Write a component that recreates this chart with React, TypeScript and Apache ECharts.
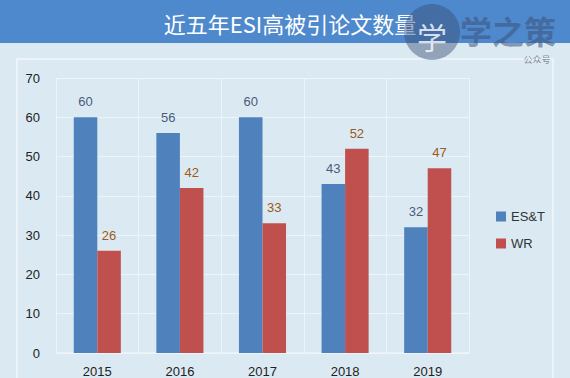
import React, { useEffect, useRef } from "react";
import * as echarts from "echarts";

const titleText = "近五年ESI高被引论文数量";
const years = ["2015", "2016", "2017", "2018", "2019"];
const estValues = [60, 56, 60, 43, 32];
const wrValues = [26, 42, 33, 52, 47];
const seriesNames = ["ES&T", "WR"];

export default function App() {
  const ref = useRef<HTMLDivElement>(null);
  useEffect(() => {
    document.body.style.margin = "0";
    const chart = echarts.init(ref.current!, null, { renderer: "svg" });
    const font = "'Liberation Sans', 'DejaVu Sans', sans-serif";
    chart.setOption({
      animation: false,
      backgroundColor: "#dbeaf2",
      textStyle: { fontFamily: font },
      graphic: [
        { type: "rect", left: 0, top: 0, shape: { x: 0, y: 0, width: 570, height: 43 }, style: { fill: "#4f89cd" }, z: 0 },
        { type: "rect", shape: { x: 17, y: 59, width: 536, height: 330 }, style: { fill: "none", stroke: "#f2f8fb", lineWidth: 1.5 }, z: 0 },
        {
          type: "text", x: 290, y: 23,
          style: { text: titleText, fill: "#ffffff", font: "22px 'Noto Sans CJK SC', sans-serif", textAlign: "center", textVerticalAlign: "middle" },
          z: 5,
        },
        { type: "circle", shape: { cx: 432, cy: 32, r: 28 }, style: { fill: "rgba(55,75,115,0.45)" }, z: 10 },
        {
          type: "text", x: 432, y: 36,
          style: { text: "学", fill: "rgba(255,255,255,0.8)", font: "30px 'Noto Sans CJK SC', sans-serif", textAlign: "center", textVerticalAlign: "middle" },
          z: 11,
        },
        {
          type: "text", x: 508, y: 30,
          style: { text: "学之策", fill: "rgba(60,80,120,0.55)", font: "bold 32px 'Noto Sans CJK SC', sans-serif", textAlign: "center", textVerticalAlign: "middle" },
          z: 10,
        },
        {
          type: "text", x: 537, y: 59,
          style: { text: "公众号", fill: "rgba(60,70,90,0.6)", font: "9px 'Noto Sans CJK SC', sans-serif", textAlign: "center", textVerticalAlign: "middle" },
          z: 10,
        },
      ],
      legend: {
        orient: "vertical",
        left: 491,
        top: 205,
        itemWidth: 10,
        itemHeight: 10,
        itemGap: 14,
        icon: "rect",
        textStyle: { fontSize: 13, color: "#333333", fontFamily: font },
        data: seriesNames,
      },
      grid: { left: 56, right: 101, top: 78, bottom: 25 },
      xAxis: {
        type: "category",
        data: years,
        axisLine: { lineStyle: { color: "#eef5f9", width: 1.5 } },
        axisTick: { show: false },
        splitLine: { show: true, lineStyle: { color: "#eef5f9", width: 1 } },
        axisLabel: { fontSize: 13, color: "#222222", margin: 12, fontFamily: font },
      },
      yAxis: {
        type: "value",
        min: 0,
        max: 70,
        interval: 10,
        axisLine: { show: false },
        axisTick: { show: false },
        splitLine: { lineStyle: { color: "#eef5f9", width: 1 } },
        axisLabel: { fontSize: 13, color: "#222222", margin: 16, fontFamily: font },
      },
      series: [
        {
          name: seriesNames[0],
          type: "bar",
          data: estValues,
          barGap: "0%",
          barCategoryGap: "43%",
          itemStyle: { color: "#4f81bd" },
          label: { show: true, position: "top", distance: 9, fontSize: 13, color: "#4a5b7a", fontFamily: font },
        },
        {
          name: seriesNames[1],
          type: "bar",
          data: wrValues,
          itemStyle: { color: "#c0504d" },
          label: { show: true, position: "top", distance: 9, fontSize: 13, color: "#9a5a20", fontFamily: font },
        },
      ],
    });
    return () => chart.dispose();
  }, []);
  return <div ref={ref} style={{ width: 570, height: 378 }} />;
}
